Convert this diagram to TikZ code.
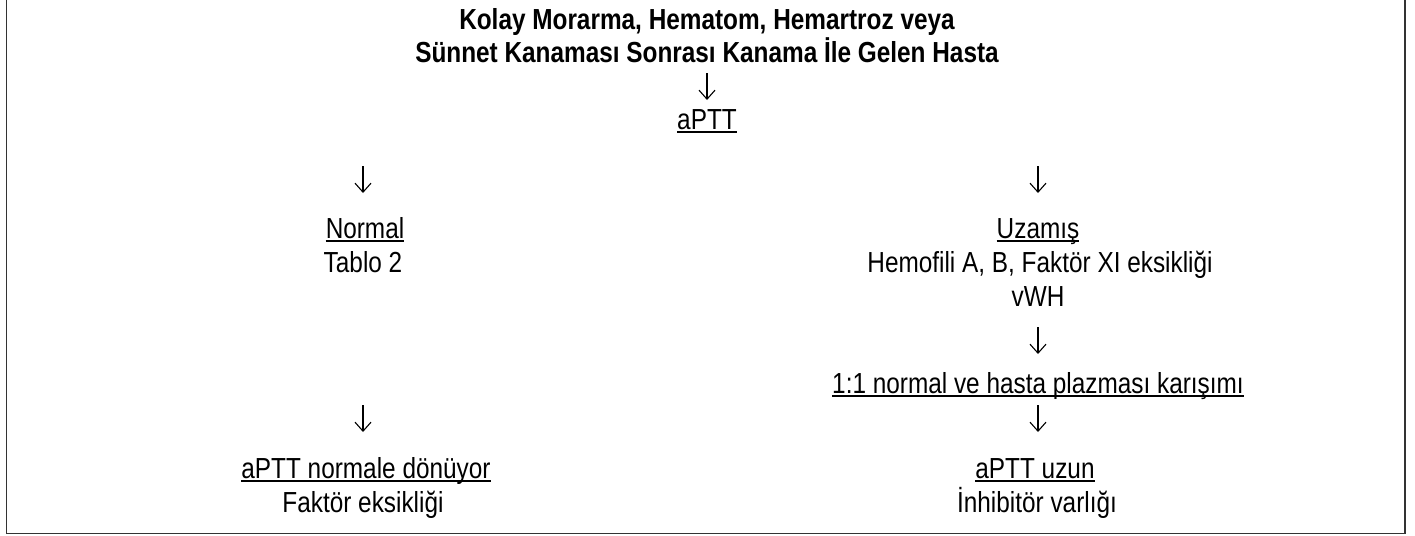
\documentclass[tikz,border=0pt]{standalone}
\usepackage{fontspec}
\setmainfont[FakeStretch=0.84]{Liberation Sans}
\usetikzlibrary{arrows.meta}
\tikzset{txt/.style={anchor=base, inner sep=0pt, font=\fontsize{29}{34}\selectfont},
  hd/.style={txt, font=\fontsize{29}{34}\selectfont\bfseries},
  dn/.style={-{Straight Barb[length=9pt,width=16pt]}, line width=1.1pt},
  uline/.style={line width=1.3pt},
  frame/.style={line width=1.6pt, black!80}}
\newcommand\uln[1]{\draw[uline] ([yshift=-3pt]#1.base west) -- ([yshift=-3pt]#1.base east);}

\begin{document}
\begin{tikzpicture}[x=1pt,y=-1pt]
        \useasboundingbox (0,0) rectangle (1415,535);
        \draw[frame] (6.5,0) -- (6.5,533.5) -- (1405,533.5) -- (1405,0);
        % head and first test
        \node[hd] (t1) at (707,30) {Kolay Morarma, Hematom, Hemartroz veya};
        \node[hd] (t2) at (707,63) {Sünnet Kanaması Sonrası Kanama İle Gelen Hasta};
        \node[txt] (aptt) at (707,129) {aPTT};
        \uln{aptt}
        %
        \node[txt] (nrm) at (365,238) {Normal\ };
        \node[txt] (tab) at (363,272) {Tablo 2};
        \node[txt] (ret) at (366,478) {aPTT normale dönüyor\ };
        \node[txt] (fak) at (363,512) {Faktör eksikliği};
        \uln{nrm} \uln{ret}
        %
        \node[txt] (uzm) at (1038,238) {Uzamış};
        \node[txt] (hem) at (1040,272) {Hemofili A, B, Faktör XI eksikliği};
        \node[txt] (vwh) at (1038,306) {vWH};
        \node[txt] (mix) at (1038,393) {1:1 normal ve hasta plazması karışımı};
        \node[txt] (uzn) at (1035,478) {aPTT uzun};
        \node[txt] (inh) at (1037,512) {İnhibitör varlığı};
        \uln{uzm} \uln{mix} \uln{uzn}
        % arrows
        \coordinate (c0) at (707,73);  \coordinate (c1) at (707,100);
        \coordinate (l0) at (363,166); \coordinate (l1) at (363,193);
        \coordinate (r0) at (1038,166); \coordinate (r1) at (1038,193);
        \coordinate (v0) at (1038,327); \coordinate (v1) at (1038,354);
        \coordinate (m0) at (363,405); \coordinate (m1) at (363,432);
        \coordinate (n0) at (1038,405); \coordinate (n1) at (1038,432);
        \foreach \a/\b in {c0/c1, l0/l1, r0/r1, v0/v1, m0/m1, n0/n1}
            \draw[dn] (\a) -- (\b);
\end{tikzpicture}
\end{document}
